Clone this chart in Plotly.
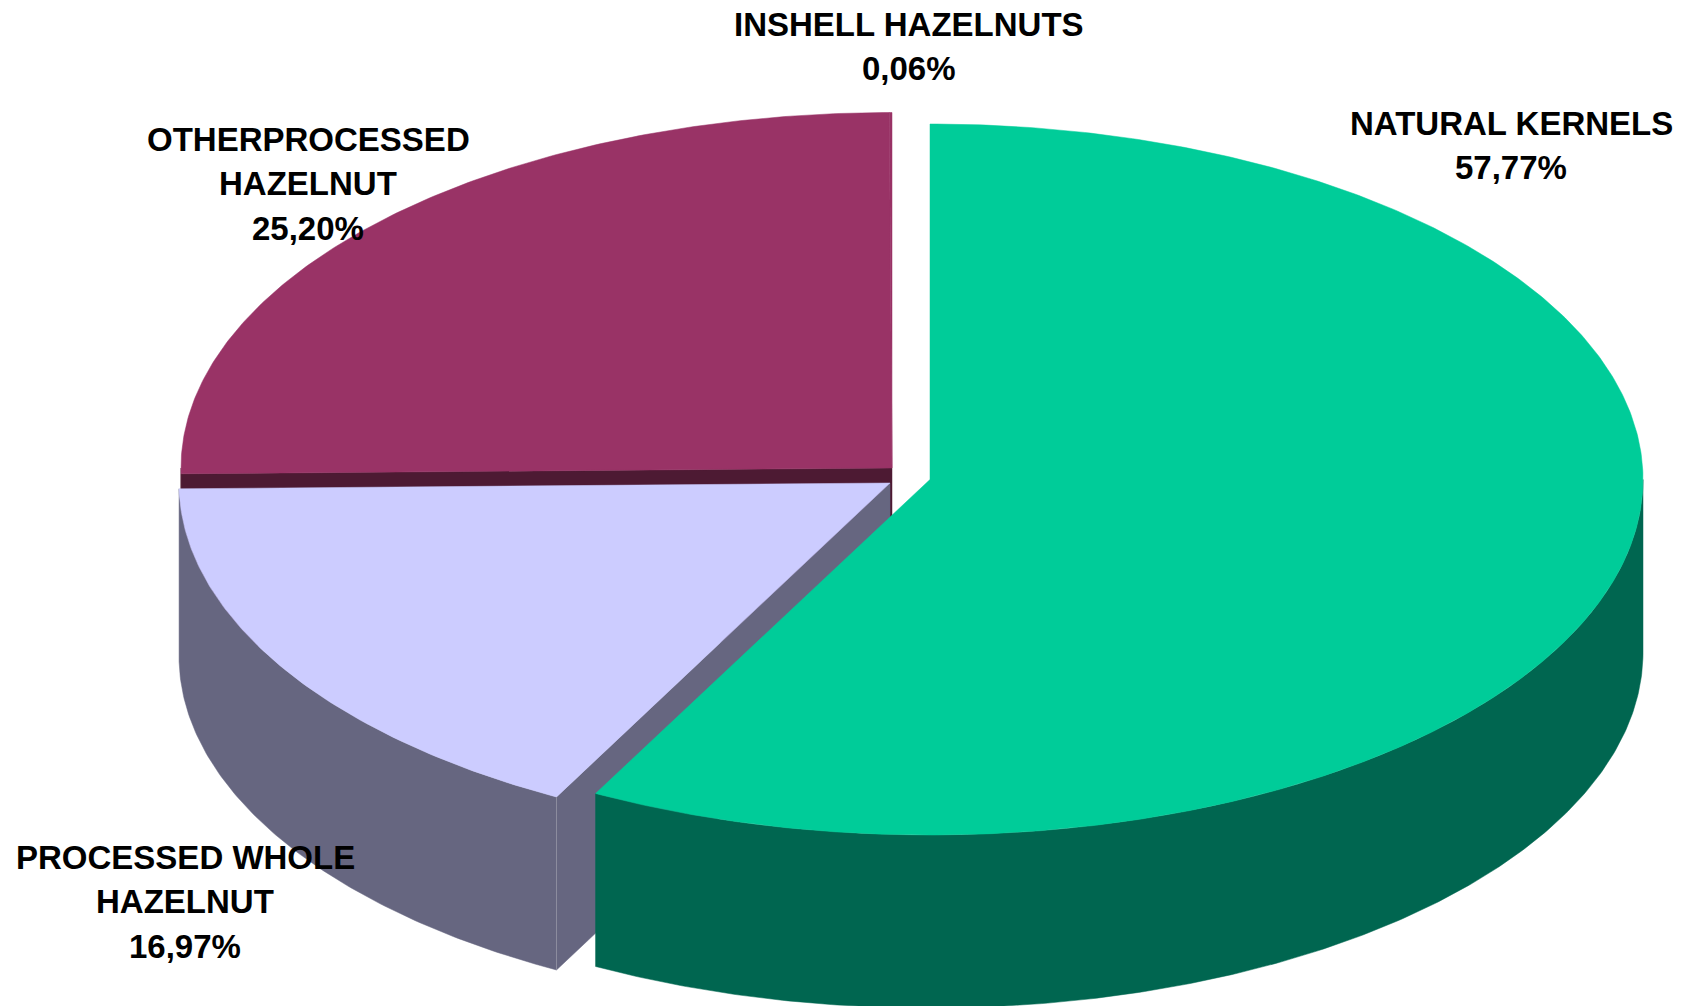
import numpy as np
import plotly.graph_objects as go

# ---- data ----
categories = ["NATURAL KERNELS", "PROCESSED WHOLE HAZELNUT", "OTHERPROCESSED HAZELNUT", "INSHELL HAZELNUTS"]
values = [57.77, 16.97, 25.20, 0.06]
top_colors = ["#00CC99", "#CCCCFF", "#993366", "#993366"]
side_colors = ["#006650", "#666680", "#4D1A33", "#4D1A33"]
label_lines = [["NATURAL KERNELS"], ["PROCESSED WHOLE", "HAZELNUT"], ["OTHERPROCESSED", "HAZELNUT"], ["INSHELL HAZELNUTS"]]

# ---- pie projection (pixels of the 1690x1006 canvas) ----
RY, DEPTH = 355.5, 173
radii_x = [713, 711, 711, 711]
centers = [(930, 479.5), (890, 483), (892, 468), (892, 468)]
label_xy = [(1511, 123), (185, 857), (308, 139), (909, 24)]
LINE_STEP = 44.5
FONT_SIZE = 33

total = sum(values)
edges = np.concatenate([[0], np.cumsum(values)]) / total * 360


def rim(cx, cy, rx, a0, a1):
    a = np.radians(np.linspace(a0, a1, max(2, int(abs(a1 - a0) * 2) + 2)))
    return cx + rx * np.sin(a), cy - RY * np.cos(a)


fig = go.Figure()


def poly(x, y, color):
    fig.add_trace(go.Scatter(x=list(x) + [x[0]], y=list(y) + [y[0]], mode="lines", fill="toself",
                             fillcolor=color, line=dict(color=color, width=0.5),
                             hoverinfo="skip", showlegend=False))


# back to front: purple, lavender, green
for i in [3, 2, 1, 0]:
    cx, cy = centers[i]
    rx = radii_x[i]
    a0, a1 = edges[i], edges[i + 1]
    sx, sy = rim(cx, cy, rx, a0, a0)
    # visible cut face at the start angle of the wedge
    if i in (1, 2):
        poly([cx, sx[0], sx[0], cx], [cy, sy[0], sy[0] + DEPTH, cy + DEPTH], side_colors[i])
    # visible part of the outer wall (front half of the ellipse)
    b0, b1 = max(a0, 90), min(a1, 270)
    if b1 > b0:
        tx, ty = rim(cx, cy, rx, b0, b1)
        poly(np.r_[tx, tx[::-1]], np.r_[ty, ty[::-1] + DEPTH], side_colors[i])
    # top surface
    tx, ty = rim(cx, cy, rx, a0, a1)
    poly(np.r_[[cx], tx], np.r_[[cy], ty], top_colors[i])
    # pale corner seam on the wedge wall
    if i == 1:
        fig.add_trace(go.Scatter(x=[sx[0], sx[0]], y=[sy[0], sy[0] + DEPTH], mode="lines",
                                 line=dict(color="#8C8C9E", width=1), hoverinfo="skip", showlegend=False))

for i, lines in enumerate(label_lines):
    x, y = label_xy[i]
    pct = f"{values[i]:.2f}".replace(".", ",") + "%"
    for k, t in enumerate(lines + [pct]):
        fig.add_annotation(x=x, y=y + k * LINE_STEP, text=f"<b>{t}</b>", showarrow=False,
                           xanchor="center", yanchor="middle",
                           font=dict(family="Liberation Sans", size=FONT_SIZE, color="#000000"))

fig.update_layout(width=1690, height=1006, margin=dict(l=0, r=0, t=0, b=0),
                  paper_bgcolor="white", plot_bgcolor="white", showlegend=False,
                  xaxis=dict(range=[0, 1690], visible=False, fixedrange=True),
                  yaxis=dict(range=[1006, 0], visible=False, fixedrange=True))

fig.write_html("out.html", config={"displayModeBar": False},
               post_script="document.body.style.margin='0';document.body.style.overflow='hidden';")
